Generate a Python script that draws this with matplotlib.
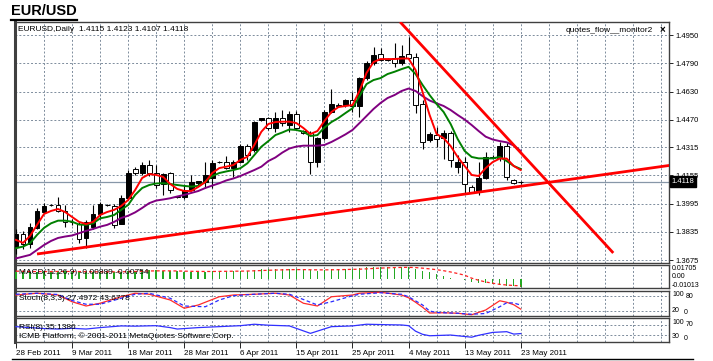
import matplotlib
matplotlib.use("Agg")
import matplotlib.pyplot as plt
import numpy as np
from matplotlib.lines import Line2D
from matplotlib import transforms

W, H = 713, 361
plt.rcParams['font.family'] = ['Liberation Sans', 'DejaVu Sans']

# ---- daily candles, 28 Feb 2011 .. 23 May 2011 (incl. sunday bars) ----
opens = [1.3750, 1.3820, 1.3763, 1.3857, 1.3945, 1.3985, 1.3986, 1.3952,
         1.3888, 1.3877, 1.3797, 1.3863, 1.3933, 1.3988, 1.3982, 1.3880,
         1.4027, 1.4190, 1.4166, 1.4213, 1.4166, 1.4103, 1.4166, 1.4035,
         1.4033, 1.4071, 1.4112, 1.4115, 1.4137, 1.4228, 1.4232, 1.4198,
         1.4232, 1.4321, 1.4298, 1.4470, 1.4478, 1.4421, 1.4478, 1.4440,
         1.4500, 1.4406, 1.4393, 1.4232, 1.4364, 1.4515, 1.4555, 1.4553,
         1.4581, 1.4549, 1.4704, 1.4790, 1.4841, 1.4810, 1.4818, 1.4790,
         1.4841, 1.4827, 1.4557, 1.4355, 1.4383, 1.4364, 1.4393, 1.4203,
         1.4232, 1.4090, 1.4062, 1.4137, 1.4260, 1.4255, 1.4322, 1.4126, 1.4115]
highs = [1.3850, 1.3839, 1.3882, 1.3971, 1.3996, 1.3993, 1.4033, 1.3986,
         1.3907, 1.3891, 1.3901, 1.3986, 1.4001, 1.3995, 1.3993, 1.4043,
         1.4185, 1.4202, 1.4232, 1.4241, 1.4213, 1.4166, 1.4172, 1.4040,
         1.4099, 1.4156, 1.4125, 1.4232, 1.4241, 1.4236, 1.4266, 1.4241,
         1.4330, 1.4330, 1.4462, 1.4482, 1.4487, 1.4512, 1.4525, 1.4519,
         1.4519, 1.4410, 1.4406, 1.4373, 1.4525, 1.4644, 1.4565, 1.4587,
         1.4629, 1.4714, 1.4803, 1.4884, 1.4878, 1.4820, 1.4903, 1.4893,
         1.4940, 1.4846, 1.4581, 1.4398, 1.4430, 1.4411, 1.4406, 1.4270,
         1.4260, 1.4099, 1.4232, 1.4288, 1.4268, 1.4345, 1.4336, 1.4132, 1.4123]
lows = [1.3707, 1.3737, 1.3744, 1.3850, 1.3939, 1.3982, 1.3945, 1.3863,
        1.3873, 1.3769, 1.3744, 1.3850, 1.3907, 1.3980, 1.3854, 1.3877,
        1.4014, 1.4156, 1.4156, 1.4152, 1.4081, 1.4043, 1.4052, 1.4028,
        1.4020, 1.4065, 1.4100, 1.4081, 1.4081, 1.4225, 1.4190, 1.4147,
        1.4223, 1.4241, 1.4288, 1.4465, 1.4411, 1.4402, 1.4434, 1.4400,
        1.4411, 1.4390, 1.4160, 1.4203, 1.4355, 1.4510, 1.4540, 1.4543,
        1.4512, 1.4487, 1.4695, 1.4780, 1.4803, 1.4805, 1.4770, 1.4780,
        1.4808, 1.4506, 1.4304, 1.4342, 1.4317, 1.4247, 1.4203, 1.4166,
        1.4052, 1.4058, 1.4043, 1.4134, 1.4250, 1.4236, 1.4128, 1.4108, 1.4107]
closes = [1.3820, 1.3763, 1.3863, 1.3952, 1.3982, 1.3988, 1.3952, 1.3888,
          1.3893, 1.3793, 1.3891, 1.3933, 1.3990, 1.3984, 1.3873, 1.4027,
          1.4166, 1.4166, 1.4213, 1.4166, 1.4099, 1.4160, 1.4071, 1.4033,
          1.4071, 1.4115, 1.4120, 1.4156, 1.4223, 1.4232, 1.4198, 1.4232,
          1.4321, 1.4270, 1.4455, 1.4478, 1.4421, 1.4478, 1.4449, 1.4500,
          1.4421, 1.4393, 1.4232, 1.4364, 1.4512, 1.4557, 1.4549, 1.4581,
          1.4549, 1.4704, 1.4790, 1.4837, 1.4808, 1.4814, 1.4790, 1.4833,
          1.4818, 1.4553, 1.4345, 1.4387, 1.4360, 1.4393, 1.4241, 1.4228,
          1.4103, 1.4062, 1.4137, 1.4260, 1.4255, 1.4322, 1.4147, 1.4112, 1.4118]

ma_red = [1.3789, 1.3772, 1.3811, 1.3874, 1.3936, 1.3953, 1.3964, 1.3947,
          1.3919, 1.3891, 1.3879, 1.3891, 1.3930, 1.3947, 1.3959, 1.3981,
          1.4015, 1.4072, 1.4140, 1.4162, 1.4157, 1.4146, 1.4106, 1.4078,
          1.4066, 1.4066, 1.4089, 1.4117, 1.4168, 1.4196, 1.4204, 1.4213,
          1.4242, 1.4260, 1.4327, 1.4402, 1.4446, 1.4457, 1.4459, 1.4459,
          1.4451, 1.4423, 1.4389, 1.4406, 1.4463, 1.4514, 1.4542, 1.4548,
          1.4553, 1.4633, 1.4735, 1.4797, 1.4814, 1.4814, 1.4814, 1.4817,
          1.4817, 1.4752, 1.4627, 1.4497, 1.4389, 1.4366, 1.4321, 1.4259,
          1.4208, 1.4157, 1.4151, 1.4196, 1.4230, 1.4250, 1.4250, 1.4208, 1.4185]
ma_green = [1.3742, 1.3751, 1.3770, 1.3817, 1.3857, 1.3883, 1.3898, 1.3898,
            1.3892, 1.3876, 1.3874, 1.3883, 1.3911, 1.3919, 1.3930, 1.3959,
            1.3987, 1.4044, 1.4083, 1.4100, 1.4109, 1.4110, 1.4106, 1.4100,
            1.4095, 1.4091, 1.4095, 1.4117, 1.4151, 1.4168, 1.4177, 1.4185,
            1.4195, 1.4223, 1.4270, 1.4317, 1.4349, 1.4383, 1.4398, 1.4415,
            1.4412, 1.4402, 1.4378, 1.4383, 1.4426, 1.4457, 1.4480, 1.4508,
            1.4535, 1.4604, 1.4672, 1.4695, 1.4706, 1.4729, 1.4742, 1.4757,
            1.4770, 1.4729, 1.4667, 1.4610, 1.4559, 1.4514, 1.4446, 1.4361,
            1.4293, 1.4259, 1.4251, 1.4251, 1.4251, 1.4259, 1.4236, 1.4208, 1.4191]
ma_purple = [1.3684, 1.3694, 1.3704, 1.3732, 1.3760, 1.3783, 1.3800, 1.3808,
             1.3814, 1.3827, 1.3840, 1.3851, 1.3864, 1.3874, 1.3891, 1.3913,
             1.3926, 1.3945, 1.3970, 1.3997, 1.4012, 1.4018, 1.4025, 1.4035,
             1.4044, 1.4055, 1.4066, 1.4083, 1.4097, 1.4110, 1.4126, 1.4137,
             1.4151, 1.4168, 1.4185, 1.4204, 1.4236, 1.4256, 1.4284, 1.4307,
             1.4318, 1.4323, 1.4323, 1.4323, 1.4327, 1.4344, 1.4365, 1.4387,
             1.4412, 1.4451, 1.4491, 1.4531, 1.4565, 1.4593, 1.4610, 1.4633,
             1.4647, 1.4633, 1.4604, 1.4579, 1.4563, 1.4548, 1.4525, 1.4497,
             1.4471, 1.4440, 1.4406, 1.4374, 1.4358, 1.4349, 1.4342, 1.4324, 1.4293]

# hand drawn trend lines: (bar, price) anchors
support_line = ([3.0, 93.2], [1.3709, 1.4211])
resist_line = ([54.8, 85.2], [1.5024, 1.3715])
last_price = 1.4118

price_ticks = [1.4950, 1.4790, 1.4630, 1.4470, 1.4315, 1.4155, 1.3995, 1.3835, 1.3675]
date_labels = ['28 Feb 2011', '9 Mar 2011', '18 Mar 2011', '28 Mar 2011', '6 Apr 2011',
               '15 Apr 2011', '25 Apr 2011', '4 May 2011', '13 May 2011', '23 May 2011']

macd_hist = [0.0085, 0.0082, 0.0082, 0.0088, 0.0094, 0.0096, 0.0098, 0.0096,
             0.0092, 0.0085, 0.0083, 0.0086, 0.0090, 0.0091, 0.0088, 0.0090,
             0.0100, 0.0105, 0.0110, 0.0112, 0.0108, 0.0104, 0.0098, 0.0094,
             0.0090, 0.0088, 0.0088, 0.0090, 0.0095, 0.0098, 0.0099, 0.0100,
             0.0104, 0.0104, 0.0112, 0.0118, 0.0120, 0.0122, 0.0121, 0.0121,
             0.0118, 0.0115, 0.0106, 0.0105, 0.0112, 0.0118, 0.0121, 0.0124,
             0.0124, 0.0132, 0.0141, 0.0148, 0.0150, 0.0152, 0.0150, 0.0150,
             0.0148, 0.0128, 0.0105, 0.0082, 0.0060, 0.0040, 0.0020, 0.0006,
             -0.0012, -0.0030, -0.0042, -0.0048, -0.0055, -0.0062, -0.0074, -0.0082, -0.0089]
macd_signal = [0.0098, 0.0096, 0.0094, 0.0093, 0.0093, 0.0093, 0.0094, 0.0094,
               0.0094, 0.0093, 0.0091, 0.0090, 0.0090, 0.0090, 0.0090, 0.0090,
               0.0092, 0.0094, 0.0097, 0.0100, 0.0101, 0.0102, 0.0101, 0.0100,
               0.0098, 0.0096, 0.0095, 0.0094, 0.0094, 0.0095, 0.0096, 0.0097,
               0.0098, 0.0099, 0.0102, 0.0105, 0.0108, 0.0111, 0.0113, 0.0115,
               0.0116, 0.0116, 0.0114, 0.0113, 0.0113, 0.0114, 0.0115, 0.0117,
               0.0119, 0.0121, 0.0125, 0.0130, 0.0134, 0.0137, 0.0140, 0.0142,
               0.0143, 0.0140, 0.0133, 0.0125, 0.0115, 0.0103, 0.0088, 0.0070,
               0.0050, 0.0015, -0.0010, -0.0030, -0.0045, -0.0058, -0.0066, -0.0072, -0.0075]

stoch_k_bars = [0, 3, 6, 8, 10, 12, 15, 17, 19, 22, 24, 26, 29, 31, 34, 37, 39, 41, 43,
                45, 48, 49, 52, 55, 56, 57, 58, 59, 61, 63, 65, 67, 69, 70, 71, 72]
stoch_k = [84, 91, 84, 57, 40, 51, 77, 91, 87, 64, 31, 44, 77, 84, 87, 91, 84, 51, 40,
           77, 84, 91, 95, 84, 73, 55, 35, 12, 13, 11, 5, 24, 61, 55, 45, 27.5]
stoch_d_bars = [0, 3, 6, 8, 10, 12, 15, 17, 19, 22, 24, 27, 29, 31, 34, 37, 39, 41, 43,
                45, 48, 49, 52, 55, 56, 58, 59, 60, 63, 65, 67, 69, 70, 71, 72]
stoch_d = [87, 91, 86, 62, 47, 47, 71, 87, 91, 71, 40, 37, 64, 81, 87, 91, 87, 66, 44,
           57, 81, 87, 93, 87, 77, 44, 20, 14, 11, 7, 10, 37, 53, 52, 43.7]

rsi_bars = [0, 2, 4, 6, 8, 10, 12, 15, 17, 20, 22, 23, 26, 29, 32, 34, 36, 39, 42, 45,
            48, 50, 53, 55, 56, 57, 58, 59, 62, 65, 66, 68, 70, 71, 72]
rsi = [64, 60, 56, 54, 57, 54, 60, 67, 66, 68, 60, 54, 60, 64, 68, 74, 70, 67, 36, 64,
       67, 74, 72, 71, 68, 45, 32, 26, 29, 20, 28, 40, 43, 33, 35.1]

# ---- layout (pixel boxes of the terminal window) ----
fig = plt.figure(figsize=(W / 100, H / 100), dpi=100)


def px_axes(x0, y0, x1, y1):
    return fig.add_axes([x0 / W, 1 - y1 / H, (x1 - x0) / W, (y1 - y0) / H])


def ptext(x, y, s, **kw):
    kw.setdefault('fontsize', 6)
    kw.setdefault('va', 'center')
    fig.text(x / W, 1 - y / H, s, **kw)


ax = px_axes(15, 22, 669, 263)
ax_macd = px_axes(15, 265, 669, 288)
ax_stoch = px_axes(15, 291, 669, 316)
ax_rsi = px_axes(15, 318, 669, 342)
panels = [ax, ax_macd, ax_stoch, ax_rsi]

grid_kw = dict(color='#7d8c9c', lw=0.7, ls=(0, (2, 2)), zorder=1)
xlim = (-0.14, 93.15)
for a in panels:
    a.set_xlim(*xlim)
    for gx in range(0, 94, 4):
        a.axvline(gx, **grid_kw)
    for s in a.spines.values():
        s.set_color('#404040')
        s.set_linewidth(1.0)
    a.spines['left'].set_linewidth(2.2)
    a.set_xticks([])
    a.tick_params(axis='y', left=False, labelleft=False)

# ---- price panel ----
x = np.arange(len(closes))
o, h, l, c = map(np.array, (opens, highs, lows, closes))
bull = c >= o
ax.set_ylim(1.3658, 1.5024)
for p in price_ticks:
    ax.axhline(p, **grid_kw)
ax.axhline(last_price, color='#8797a8', lw=0.9, zorder=2)

ax.vlines(x, l, h, color='black', lw=0.8, zorder=3)
body_lo = np.minimum(o, c)
body_h = np.maximum(np.abs(c - o), 0.00008)
ax.bar(x, body_h, bottom=body_lo, width=0.68,
       color=np.where(bull, 'black', 'white'), edgecolor='black', lw=0.7, zorder=4)

ax.plot(x, ma_purple, color='#800080', lw=1.4, zorder=5)
ax.plot(x, ma_green, color='#008000', lw=1.4, zorder=5)
ax.plot(x, ma_red, color='#ff0000', lw=1.4, zorder=5)
ax.plot(*support_line, color='#ff0000', lw=2, zorder=6, solid_capstyle='butt')
ax.plot(*resist_line, color='#ff0000', lw=2, zorder=6, solid_capstyle='butt')

ax.set_yticks(price_ticks)
ax.set_yticklabels([f'{p:.4f}' for p in price_ticks])
ax.tick_params(axis='y', right=True, labelright=True, length=3, width=0.6,
               pad=1.5, labelsize=5.5, colors='black')
blend = transforms.blended_transform_factory(ax.transAxes, ax.transData)
ax.text(1.004, last_price, f'{last_price:.4f}', transform=blend, fontsize=5.5,
        color='white', va='center', ha='left', zorder=10,
        bbox=dict(boxstyle='square,pad=0.25', fc='black', ec='black'))

# ---- MACD panel ----
ax_macd.set_ylim(-0.01013, 0.01705)
ax_macd.bar(x, macd_hist, width=0.22, color='#23a823', zorder=3)
ax_macd.plot(x, macd_signal, color='#ff2020', lw=0.9, ls=(0, (2.5, 2)), zorder=4)

# ---- Stochastic panel ----
ax_stoch.set_ylim(0, 100)
for lv in (20, 80):
    ax_stoch.axhline(lv, **grid_kw)
ax_stoch.plot(stoch_k_bars, stoch_k, color='#ff2a2a', lw=0.9, zorder=4)
ax_stoch.plot(stoch_d_bars, stoch_d, color='#2a2aff', lw=0.9, ls=(0, (3, 2)), zorder=4)

# ---- RSI panel ----
ax_rsi.set_ylim(0, 100)
for lv in (30, 70):
    ax_rsi.axhline(lv, **grid_kw)
ax_rsi.plot(rsi_bars, rsi, color='#3030ff', lw=0.9, zorder=4)
ax_rsi.set_xticks(np.arange(0, 73, 8))
ax_rsi.set_xticklabels(date_labels)
ax_rsi.tick_params(axis='x', bottom=True, length=4, width=0.6, pad=2,
                   labelsize=5.8, colors='black')
for lab in ax_rsi.get_xticklabels():
    lab.set_ha('left')

# right hand scale labels of the sub panels, staggered so they stay readable
sub_labels = [('0.01705', 672, 268.5), ('0.00', 672, 277), ('-0.01013', 672, 285.5),
              ('100', 672, 295), ('80', 686, 297), ('20', 672, 311), ('0', 684, 313),
              ('100', 672, 323), ('70', 686, 325), ('30', 672, 336), ('0', 684, 338)]
for s, px, py in sub_labels:
    ptext(px, py, s, fontsize=5)

# ---- captions ----
ptext(11, 11, 'EUR/USD', fontsize=10.5, fontweight='bold')
fig.add_artist(Line2D([11 / W, 77 / W], [1 - 19.5 / H] * 2, color='black', lw=1.6))
ptext(18, 29.5, 'EURUSD,Daily  1.4115 1.4123 1.4107 1.4118')
ptext(653, 30, 'quotes_flow__monitor2', ha='right')
ptext(662, 30, '×', ha='center', fontweight='bold', fontsize=7)
ptext(19, 273, 'MACD(12,26,9) -0.00889 -0.00754')
ptext(19, 299, 'Stoch(8,3,3) 27.4972 43.6778')
ptext(19, 327.5, 'RSI(8) 35.1386')
ptext(19, 336.5, 'ICMB Platform, © 2001-2011 MetaQuotes Software Corp.')
fig.add_artist(Line2D([12 / W, 693 / W], [1 - 359 / H] * 2, color='black', lw=1.0))

fig.savefig('out.png', dpi=100)
